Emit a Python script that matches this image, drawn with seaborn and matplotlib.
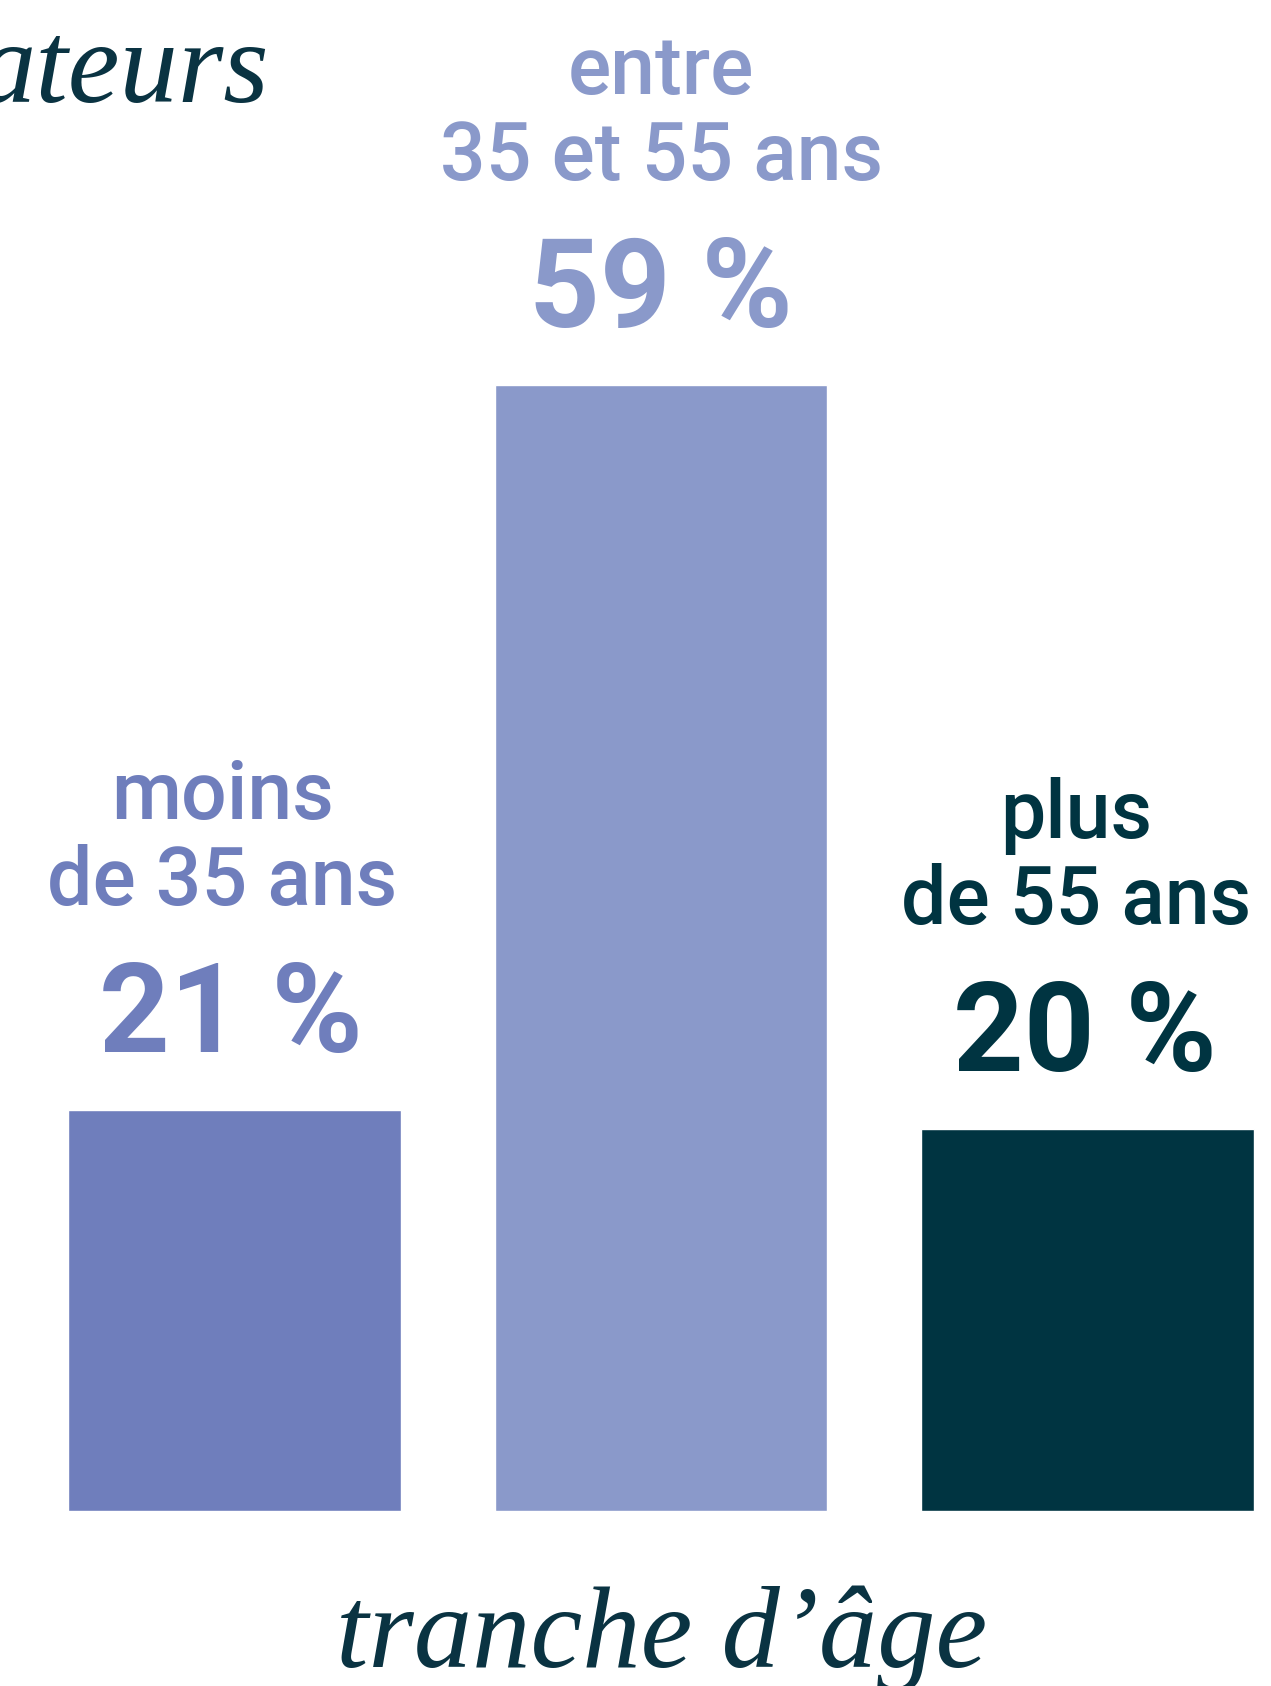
import matplotlib
matplotlib.use("Agg")
import matplotlib.pyplot as plt
import seaborn as sns
import pandas as pd

# data
tranches = ["moins\nde 35 ans", "entre\n35 et 55 ans", "plus\nde 55 ans"]
parts = [21, 59, 20]
couleurs = ["#6F7EBC", "#8A99CA", "#003441"]
couleurs_texte = ["#6F7EBC", "#8A99CA", "#003441"]
titre_coupe = "ateurs"
axe_x = "tranche d\u2019\u00e2ge"

sns.set_theme(style="white")
plt.rcParams["font.family"] = ["Roboto", "DejaVu Sans"]

df = pd.DataFrame({"tranche": tranches, "part": parts})

fig = plt.figure(figsize=(12.71, 16.86), dpi=100)
ax = fig.add_axes([0, 0.1038, 1, 0.8962])

sns.barplot(data=df, x="tranche", y="part", hue="tranche", palette=couleurs,
            legend=False, width=0.78, saturation=1, ax=ax)
ax.set_xlim(-0.55, 2.43)
ax.set_ylim(0, 79.2)
ax.axis("off")

# small horizontal nudges of the labels, in points
dx_lab = [-9, 0, -8]
dx_pct = [-3, 0, -2]

for i, (lab, v) in enumerate(zip(tranches, parts)):
    c = couleurs_texte[i]
    ax.annotate(f"{v} %", (i, v), xytext=(dx_pct[i], 42), textcoords="offset points",
                ha="center", va="baseline", fontsize=89, fontweight="bold", color=c)
    l1, l2 = lab.split("\n")
    ax.annotate(l2, (i, v), xytext=(dx_lab[i], 148), textcoords="offset points",
                ha="center", va="baseline", fontsize=58, fontweight="medium", color=c)
    ax.annotate(l1, (i, v), xytext=(dx_lab[i], 210), textcoords="offset points",
                ha="center", va="baseline", fontsize=58, fontweight="medium", color=c)

fig.text(269 / 1271, 1 - 102 / 1686, titre_coupe, ha="right", va="baseline",
         fontsize=84, style="italic", family="Liberation Serif", color="#0A3342")
fig.text(662 / 1271, 1 - 1667 / 1686, axe_x, ha="center", va="baseline",
         fontsize=84, style="italic", family="Liberation Serif", color="#0A3342")

fig.savefig("out.png", dpi=100)
